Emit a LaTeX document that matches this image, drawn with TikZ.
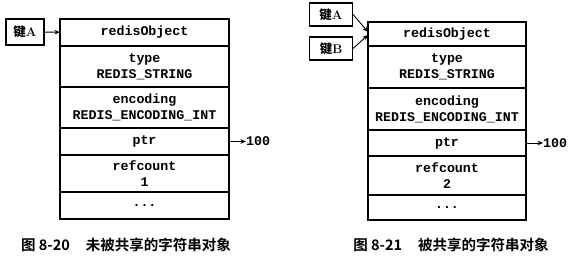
\documentclass[tikz,border=0pt]{standalone}
\usepackage{fontspec}
\setmonofont{Liberation Mono}
\newfontfamily\cjk{Noto Sans CJK SC Bold}
\usepackage{tikz}
\usetikzlibrary{positioning, arrows.meta, calc}

\begin{document}
\begin{tikzpicture}[
    x=1pt, y=-1pt,
    >={Stealth[length=5.5pt,width=4.5pt]},
    font=\ttfamily\bfseries\fontsize{13.3}{16}\selectfont,
    cell/.style ={draw, line width=1.1pt, outer sep=0pt, inner sep=0pt, align=center},
    col1/.style ={cell, minimum width=169pt},
    col2/.style ={cell, minimum width=158pt},
    keybox/.style ={draw, line width=1.1pt, inner sep=0pt, font=\rmfamily\bfseries\fontsize{12.5}{14}\selectfont},
    val/.style ={inner sep=0pt},
    arr/.style ={->, line width=0.9pt},
    figcap/.style ={inner sep=0pt, font=\cjk\fontsize{14.5}{16}\selectfont},
]
\useasboundingbox (0,0) rectangle (572,261);

% ---- Fig 8-20: one key ----
\node[col1, minimum height=27pt] (hdr1) at (144.5,32.5) {redisObject};
\node[col1, minimum height=41pt, below=0pt of hdr1] (type1) {type\\REDIS\_STRING};
\node[col1, minimum height=41pt, below=0pt of type1] (enc1) {encoding\\REDIS\_ENCODING\_INT};
\node[col1, minimum height=27pt, below=0pt of enc1] (ptr1) {ptr};
\node[col1, minimum height=37pt, below=0pt of ptr1] (ref1) {refcount\\1};
\node[col1, minimum height=27pt, below=0pt of ref1] (more1) {...};

\node[keybox, minimum width=38pt, minimum height=26pt] (key1a) at (25,32) {{\cjk 键}A};
\node[val, right=17pt of ptr1] (val1) {100};

\draw[arr] (key1a) -- (hdr1);
\draw[arr] (ptr1) -- (val1);

\node[figcap] (cap1) at (126,245) {图 8-20\hspace{1.1em}未被共享的字符串对象};

% ---- Fig 8-21: two keys ----
\node[col2, minimum height=24pt] (hdr2) at (447,34) {redisObject};
\node[col2, minimum height=42pt, below=0pt of hdr2] (type2) {type\\REDIS\_STRING};
\node[col2, minimum height=42pt, below=0pt of type2] (enc2) {encoding\\REDIS\_ENCODING\_INT};
\node[col2, minimum height=26pt, below=0pt of enc2] (ptr2) {ptr};
\node[col2, minimum height=39pt, below=0pt of ptr2] (ref2) {refcount\\2};
\node[col2, minimum height=25pt, below=0pt of ref2] (more2) {...};

\node[keybox, minimum width=43pt, minimum height=23pt] (key2a) at (331,14.5) {{\cjk 键}A};
\node[keybox, minimum width=43pt, minimum height=23pt] (key2b) at (331,48.5) {{\cjk 键}B};
\node[val, right=17pt of ptr2] (val2) {100};

\draw[arr] (key2a.east) -- ($(hdr2.west)+(0,-2)$);
\draw[arr] (key2b.east) -- ($(hdr2.west)+(0,1)$);
\draw[arr] (ptr2) -- (val2);

\node[figcap] (cap2) at (451,245) {图 8-21\hspace{1.1em}被共享的字符串对象};

\end{tikzpicture}
\end{document}
